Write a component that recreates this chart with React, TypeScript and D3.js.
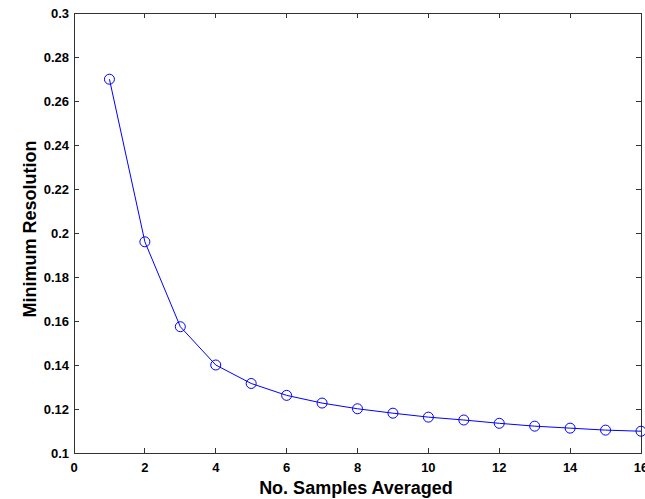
import { useEffect, useRef } from 'react';
import * as d3 from 'd3';

const samples = [1, 2, 3, 4, 5, 6, 7, 8, 9, 10, 11, 12, 13, 14, 15, 16];
const resolution = [
  0.2699, 0.196, 0.1574, 0.14, 0.1316, 0.1262, 0.1227, 0.1201, 0.1181, 0.1163, 0.115,
  0.1135, 0.1122, 0.1113, 0.1104, 0.1099,
];
const xTicks = [0, 2, 4, 6, 8, 10, 12, 14, 16];
const yTicks = [0.1, 0.12, 0.14, 0.16, 0.18, 0.2, 0.22, 0.24, 0.26, 0.28, 0.3];

const W = 645;
const H = 499;
const margin = { left: 74, right: 3, top: 13, bottom: 46 };

export default function App() {
  const svgRef = useRef<SVGSVGElement>(null);

  useEffect(() => {
    const svg = d3.select(svgRef.current);
    svg.selectAll('*').remove();

    const x = d3.scaleLinear().domain([0, 16]).range([margin.left, W - margin.right - 1]);
    const y = d3.scaleLinear().domain([0.1, 0.3]).range([H - margin.bottom, margin.top]);
    const font = 'Arial, "Liberation Sans", Helvetica, sans-serif';
    const axisColor = '#333';
    const tickLen = 5;

    const g = svg.append('g').attr('shape-rendering', 'crispEdges');

    // box
    g.append('rect')
      .attr('x', x(0))
      .attr('y', y(0.3))
      .attr('width', x(16) - x(0))
      .attr('height', y(0.1) - y(0.3))
      .attr('fill', 'none')
      .attr('stroke', axisColor);

    // x ticks (bottom and top, pointing in)
    xTicks.forEach((t) => {
      g.append('line')
        .attr('x1', x(t)).attr('x2', x(t))
        .attr('y1', y(0.1)).attr('y2', y(0.1) - tickLen)
        .attr('stroke', axisColor);
      g.append('line')
        .attr('x1', x(t)).attr('x2', x(t))
        .attr('y1', y(0.3)).attr('y2', y(0.3) + tickLen)
        .attr('stroke', axisColor);
      svg.append('text')
        .attr('x', x(t))
        .attr('y', y(0.1) + 19)
        .attr('text-anchor', 'middle')
        .attr('font-family', font)
        .attr('font-weight', 'bold')
        .attr('font-size', 13)
        .text(t);
    });

    // y ticks (left and right)
    yTicks.forEach((t) => {
      g.append('line')
        .attr('x1', x(0)).attr('x2', x(0) + tickLen)
        .attr('y1', y(t)).attr('y2', y(t))
        .attr('stroke', axisColor);
      g.append('line')
        .attr('x1', x(16)).attr('x2', x(16) - tickLen)
        .attr('y1', y(t)).attr('y2', y(t))
        .attr('stroke', axisColor);
      svg.append('text')
        .attr('x', x(0) - 5)
        .attr('y', y(t) + 5)
        .attr('text-anchor', 'end')
        .attr('font-family', font)
        .attr('font-weight', 'bold')
        .attr('font-size', 13)
        .text(String(t));
    });

    const pts = samples.map((s, i) => [s, resolution[i]] as [number, number]);
    const line = d3
      .line<[number, number]>()
      .x((d) => x(d[0]))
      .y((d) => y(d[1]));

    svg.append('path')
      .attr('d', line(pts))
      .attr('fill', 'none')
      .attr('stroke', '#0000ff')
      .attr('stroke-width', 1);

    svg.selectAll('circle.m')
      .data(pts)
      .join('circle')
      .attr('class', 'm')
      .attr('cx', (d) => x(d[0]))
      .attr('cy', (d) => y(d[1]))
      .attr('r', 5)
      .attr('fill', 'none')
      .attr('stroke', '#0000ff')
      .attr('stroke-width', 1);

    svg.append('text')
      .attr('x', 356)
      .attr('y', H - 5)
      .attr('text-anchor', 'middle')
      .attr('font-family', font)
      .attr('font-weight', 'bold')
      .attr('font-size', 18)
      .text('No. Samples Averaged');

    svg.append('text')
      .attr('transform', `translate(36, 229) rotate(-90)`)
      .attr('text-anchor', 'middle')
      .attr('font-family', font)
      .attr('font-weight', 'bold')
      .attr('font-size', 18)
      .text('Minimum Resolution');
  }, []);

  return (
    <svg
      ref={svgRef}
      width={W}
      height={H}
      style={{ position: 'absolute', left: 0, top: 0, background: '#fff' }}
    />
  );
}
